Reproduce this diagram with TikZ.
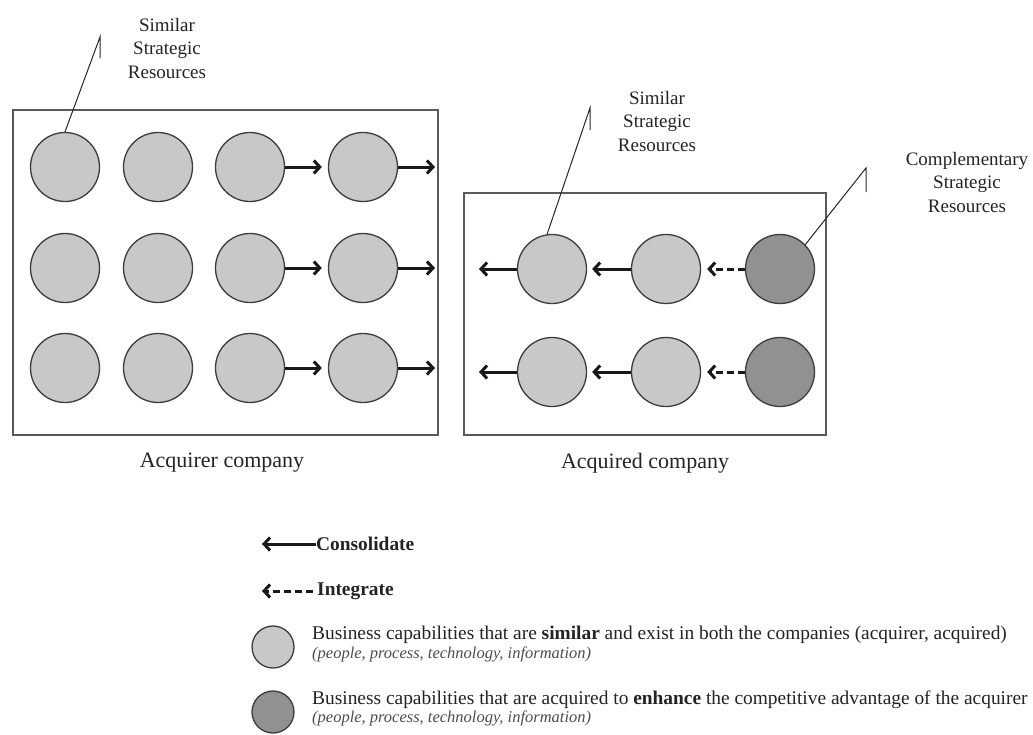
\documentclass[tikz,border=0pt]{standalone}
\usepackage{fontspec}
\setmainfont{Liberation Serif}
\usetikzlibrary{arrows.meta}
\definecolor{lightfill}{RGB}{200,200,200}
\definecolor{darkfill}{RGB}{145,145,145}
\definecolor{edge}{RGB}{60,60,60}
\definecolor{boxedge}{RGB}{90,90,90}
\definecolor{txt}{RGB}{35,35,35}
\begin{document}
\begin{tikzpicture}[x=1pt,y=-1pt,
  light/.style={circle,draw=edge,line width=1.3pt,fill=lightfill,minimum size=69pt,inner sep=0pt},
  dark/.style={light,fill=darkfill},
  leglight/.style={light,minimum size=42pt},
  legdark/.style={dark,minimum size=42pt},
  arr/.style={line width=3pt,black!90,-{Straight Barb[length=6pt,width=13pt]}},
  darr/.style={arr,dash pattern=on 7pt off 4pt},
  callout/.style={line width=1pt,black!85},
  coltext/.style={align=center,text=txt,font=\fontsize{19}{23.5}\selectfont,inner sep=0pt},
  comptext/.style={text=txt,font=\fontsize{22}{26}\selectfont,inner sep=0pt},
  legtext/.style={anchor=west,text=txt,font=\fontsize{19.4}{22}\selectfont,inner sep=0pt},
  legsub/.style={anchor=west,text=black!70,font=\fontsize{16.5}{18}\selectfont\itshape,inner sep=0pt},
  boxline/.style={draw=boxedge,line width=1.3pt}]
\useasboundingbox (0,0) rectangle (1033,734);
% boxes
\draw[boxline] (13,110) rectangle (438,435);
\draw[boxline] (464,193) rectangle (826,435);
% acquirer circles
\foreach \r/\y in {1/167,2/268,3/368}{
  \node[light] (L\r1) at (65,\y) {};
  \node[light] (L\r2) at (158,\y) {};
  \node[light] (L\r3) at (250,\y) {};
  \node[light] (L\r4) at (363,\y) {};
  \coordinate (Lend\r) at (435,\y);
  \draw[arr,shorten >=6pt] (L\r3.east) -- (L\r4.west);
  \draw[arr] (L\r4.east) -- (Lend\r);
}
% acquired circles
\foreach \r/\y in {1/269,2/372}{
  \node[light] (R\r1) at (552,\y) {};
  \node[light] (R\r2) at (666,\y) {};
  \node[dark] (R\r3) at (780,\y) {};
  \coordinate (Rend\r) at (479,\y);
  \draw[arr] (R\r1.west) -- (Rend\r);
  \draw[arr,shorten >=5pt] (R\r2.west) -- (R\r1.east);
  \draw[darr,shorten >=6pt] (R\r3.west) -- (R\r2.east);
}
% callouts
\coordinate (c1) at (100,37);
\draw[callout] (L11.north) -- (c1) -- ++(0,21);
\node[coltext] (t1) at (167,48) {Similar\\Strategic\\Resources};
\coordinate (c2) at (590,108);
\draw[callout] (R11.98) -- (c2) -- ++(0,22);
\node[coltext] (t2) at (657,121) {Similar\\Strategic\\Resources};
\coordinate (c3) at (866,168);
\draw[callout] (R13.44) -- (c3) -- ++(0,24);
\node[coltext] (t3) at (967,182) {Complementary\\Strategic\\Resources};
% company labels
\node[comptext] (acq) at (222,463) {Acquirer company};
\node[comptext] (acd) at (645,463) {Acquired company};
% legend
\node[legtext] (cons) at (316,544) {\textbf{Consolidate}};
\coordinate (constip) at (262,544);
\draw[arr] (cons.west) -- (constip);
\node[legtext] (integ) at (317,591) {\textbf{Integrate}};
\coordinate (integtip) at (262,591);
\draw[darr] ([xshift=-4pt]integ.west) -- (integtip);
\node[leglight] (g1) at (273,647) {};
\node[legtext] (d1) at (312,635) {Business capabilities that are \textbf{similar} and exist in both the companies (acquirer, acquired)};
\node[legsub] (d1s) at (312,654) {(people, process, technology, information)};
\node[legdark] (g2) at (273,712) {};
\node[legtext] (d2) at (312,700) {Business capabilities that are acquired to \textbf{enhance} the competitive advantage of the acquirer};
\node[legsub] (d2s) at (312,718) {(people, process, technology, information)};
\end{tikzpicture}
\end{document}
